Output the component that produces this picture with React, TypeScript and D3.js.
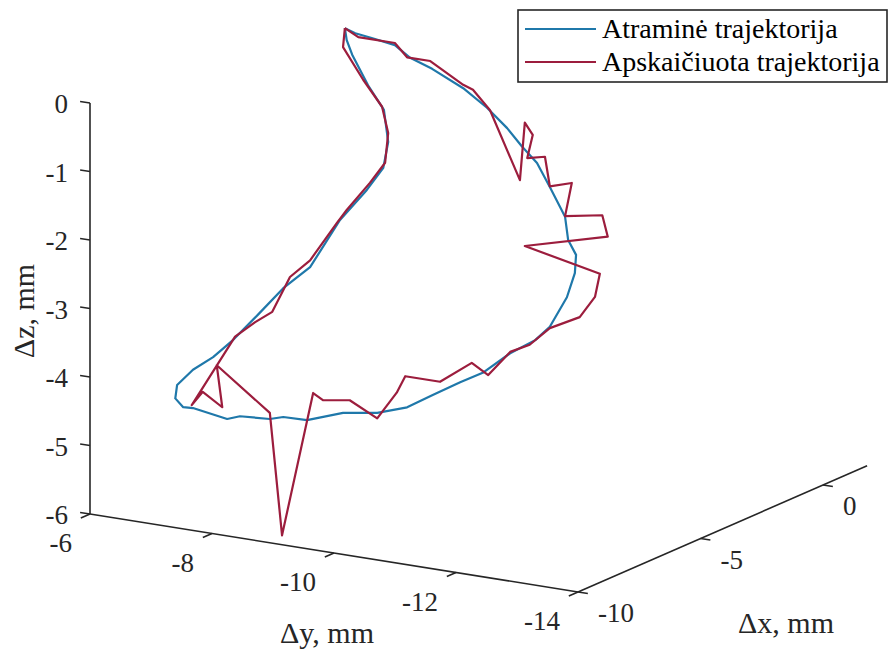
import React, { useEffect, useRef } from 'react';
import * as d3 from 'd3';

// Axis ticks
const zTicks = [0, -1, -2, -3, -4, -5, -6];
const yTicks = [-6, -8, -10, -12, -14];
const xTicks = [-10, -5, 0];

const TRAJ_DX = -5;

// Atraminė trajektorija (reference)
const refDy = [-8.17, -8.34, -8.61, -8.99, -9.24, -9.60, -10.11, -10.50, -10.83, -11.07,
    -11.32, -11.53, -11.78, -11.83, -11.96, -11.94, -11.81, -11.53, -11.29, -10.88,
    -10.43, -10.06, -9.61, -9.19, -8.70, -8.14, -7.55, -7.16, -6.94, -6.45,
    -6.24, -5.68, -5.52, -5.39, -5.42, -5.68, -6.01, -6.34, -6.75, -7.16,
    -7.60, -8.09, -8.53, -8.80, -8.88, -8.81, -8.55, -8.29, -8.20, -8.17];
const refDz = [0.62, 0.57, 0.54, 0.49, 0.34, 0.23, 0.02, -0.21, -0.46, -0.69,
    -0.90, -1.22, -1.62, -1.95, -2.15, -2.42, -2.79, -3.26, -3.49, -3.74,
    -4.09, -4.28, -4.53, -4.77, -4.92, -5.00, -5.19, -5.20, -5.26, -5.29,
    -5.36, -5.28, -5.29, -5.18, -4.98, -4.72, -4.49, -4.19, -3.76, -3.32,
    -2.95, -2.19, -1.69, -1.33, -0.94, -0.48, -0.16, 0.25, 0.45, 0.62];

// Apskaičiuota trajektorija (computed)
const calcDy = [-8.17, -8.39, -8.99, -9.19, -9.57, -10.11, -10.27, -10.55, -11.04, -11.12,
    -11.25, -11.16, -11.45, -11.53, -11.89, -11.78, -12.39, -12.48, -11.12, -12.35,
    -12.27, -12.02, -11.53, -11.20, -10.88, -10.52, -10.25, -9.73, -9.16, -9.02,
    -8.70, -8.25, -7.81, -7.65, -7.14, -6.94, -6.07, -6.16, -5.84, -5.66,
    -6.37, -6.70, -6.98, -7.27, -7.60, -8.04, -8.20, -8.58, -8.83, -8.88,
    -8.78, -8.47, -8.14, -8.17];
const calcDz = [0.62, 0.52, 0.52, 0.34, 0.34, 0.07, 0.02, -0.24, -1.19, -0.34,
    -0.50, -0.85, -0.79, -1.21, -1.11, -1.61, -1.51, -1.81, -2.14, -2.37,
    -2.72, -3.05, -3.28, -3.57, -3.72, -4.11, -3.97, -4.32, -4.32, -4.58,
    -5.00, -4.80, -4.86, -4.78, -6.93, -5.17, -4.60, -5.20, -5.02, -5.24,
    -4.14, -3.88, -3.69, -3.14, -2.85, -2.24, -2.03, -1.58, -1.25, -0.81,
    -0.44, -0.09, 0.34, 0.62];

const legendLabels = ['Atraminė trajektorija', 'Apskaičiuota trajektorija'];
const colors = ['#1f78aa', '#9c1d3d'];

const WIDTH = 889;
const HEIGHT = 650;
const FONT = '"Liberation Serif", "Times New Roman", serif';
const AXIS_COLOR = '#262626';

export default function App() {
    const ref = useRef<SVGSVGElement>(null);

    useEffect(() => {
        const svg = d3.select(ref.current);
        svg.selectAll('*').remove();

        // projection of the 3D box: z vertical, y to the lower right, x to the upper right
        const zS = d3.scaleLinear().domain([-6, 0]).range([514, 103]);
        const yH = d3.scaleLinear().domain([-6, -14]).range([90, 578]);
        const yV = d3.scaleLinear().domain([-6, -14]).range([0, 78]);
        const xH = d3.scaleLinear().domain([-10, 0]).range([0, 245]);
        const xV = d3.scaleLinear().domain([-10, 0]).range([0, -107]);
        const xMax = 1.8;

        const project = (x: number, y: number, z: number): [number, number] =>
            [yH(y) + xH(x), zS(z) + yV(y) + xV(x)];

        const tickLen = 10;
        const xDir = [245 / Math.hypot(245, 107), -107 / Math.hypot(245, 107)];
        const yDir = [488 / Math.hypot(488, 78), 78 / Math.hypot(488, 78)];

        const axes = svg.append('g')
            .attr('stroke', AXIS_COLOR)
            .attr('stroke-width', 1.6)
            .attr('fill', 'none');

        const seg = (a: [number, number], b: [number, number]) =>
            axes.append('line')
                .attr('x1', a[0]).attr('y1', a[1])
                .attr('x2', b[0]).attr('y2', b[1]);

        // axis lines
        seg(project(-10, -6, -6), project(-10, -6, 0));
        seg(project(-10, -6, -6), project(-10, -14, -6));
        seg(project(-10, -14, -6), project(xMax, -14, -6));

        const labels = svg.append('g')
            .attr('font-family', FONT)
            .attr('font-size', 27)
            .attr('fill', AXIS_COLOR);

        // z ticks point along -y
        zTicks.forEach(t => {
            const p = project(-10, -6, t);
            seg(p, [p[0] - yDir[0] * tickLen, p[1] - yDir[1] * tickLen]);
            labels.append('text')
                .attr('x', p[0] - 22)
                .attr('y', p[1] + 1)
                .attr('text-anchor', 'end')
                .attr('dominant-baseline', 'central')
                .text(t);
        });

        // y ticks point along -x
        yTicks.forEach(t => {
            const p = project(-10, t, -6);
            seg(p, [p[0] - xDir[0] * tickLen, p[1] - xDir[1] * tickLen]);
            labels.append('text')
                .attr('x', p[0] - 18)
                .attr('y', p[1] + 29)
                .attr('text-anchor', 'end')
                .attr('dominant-baseline', 'central')
                .text(t);
        });

        // x ticks point along +y (to the right)
        xTicks.forEach(t => {
            const p = project(t, -14, -6);
            seg(p, [p[0] + yDir[0] * tickLen, p[1] + yDir[1] * tickLen]);
            labels.append('text')
                .attr('x', p[0] + 20)
                .attr('y', p[1] + 21)
                .attr('text-anchor', 'start')
                .attr('dominant-baseline', 'central')
                .text(t);
        });

        // axis titles
        const titles = labels.append('g').attr('font-size', 30);
        titles.append('text')
            .attr('transform', 'translate(23,311) rotate(-90)')
            .attr('text-anchor', 'middle')
            .attr('dominant-baseline', 'central')
            .text('Δz, mm');
        titles.append('text')
            .attr('x', 327).attr('y', 632)
            .attr('text-anchor', 'middle')
            .attr('dominant-baseline', 'central')
            .text('Δy, mm');
        titles.append('text')
            .attr('x', 786).attr('y', 622)
            .attr('text-anchor', 'middle')
            .attr('dominant-baseline', 'central')
            .text('Δx, mm');

        // trajectories
        const line = d3.line<[number, number]>().x(d => d[0]).y(d => d[1]);
        const series = [
            refDy.map((dy, i) => project(TRAJ_DX, dy, refDz[i])),
            calcDy.map((dy, i) => project(TRAJ_DX, dy, calcDz[i])),
        ];
        series.forEach((pts, i) => {
            svg.append('path')
                .attr('d', line(pts))
                .attr('fill', 'none')
                .attr('stroke', colors[i])
                .attr('stroke-width', 2.2)
                .attr('stroke-linejoin', 'round');
        });

        // legend
        const lg = svg.append('g');
        lg.append('rect')
            .attr('x', 518).attr('y', 10)
            .attr('width', 369).attr('height', 72)
            .attr('fill', 'white')
            .attr('stroke', AXIS_COLOR)
            .attr('stroke-width', 1.6);
        legendLabels.forEach((label, i) => {
            const y = 29 + i * 33;
            lg.append('line')
                .attr('x1', 525).attr('x2', 596)
                .attr('y1', y).attr('y2', y)
                .attr('stroke', colors[i])
                .attr('stroke-width', 2.2);
            lg.append('text')
                .attr('x', 602).attr('y', y + 9)
                .attr('font-family', FONT)
                .attr('font-size', 28)
                .attr('fill', 'black')
                .text(label);
        });
    }, []);

    return (
        <div style={{ position: 'absolute', left: 0, top: 0 }}>
            <svg ref={ref} width={WIDTH} height={HEIGHT} style={{ display: 'block', background: 'white' }} />
        </div>
    );
}
